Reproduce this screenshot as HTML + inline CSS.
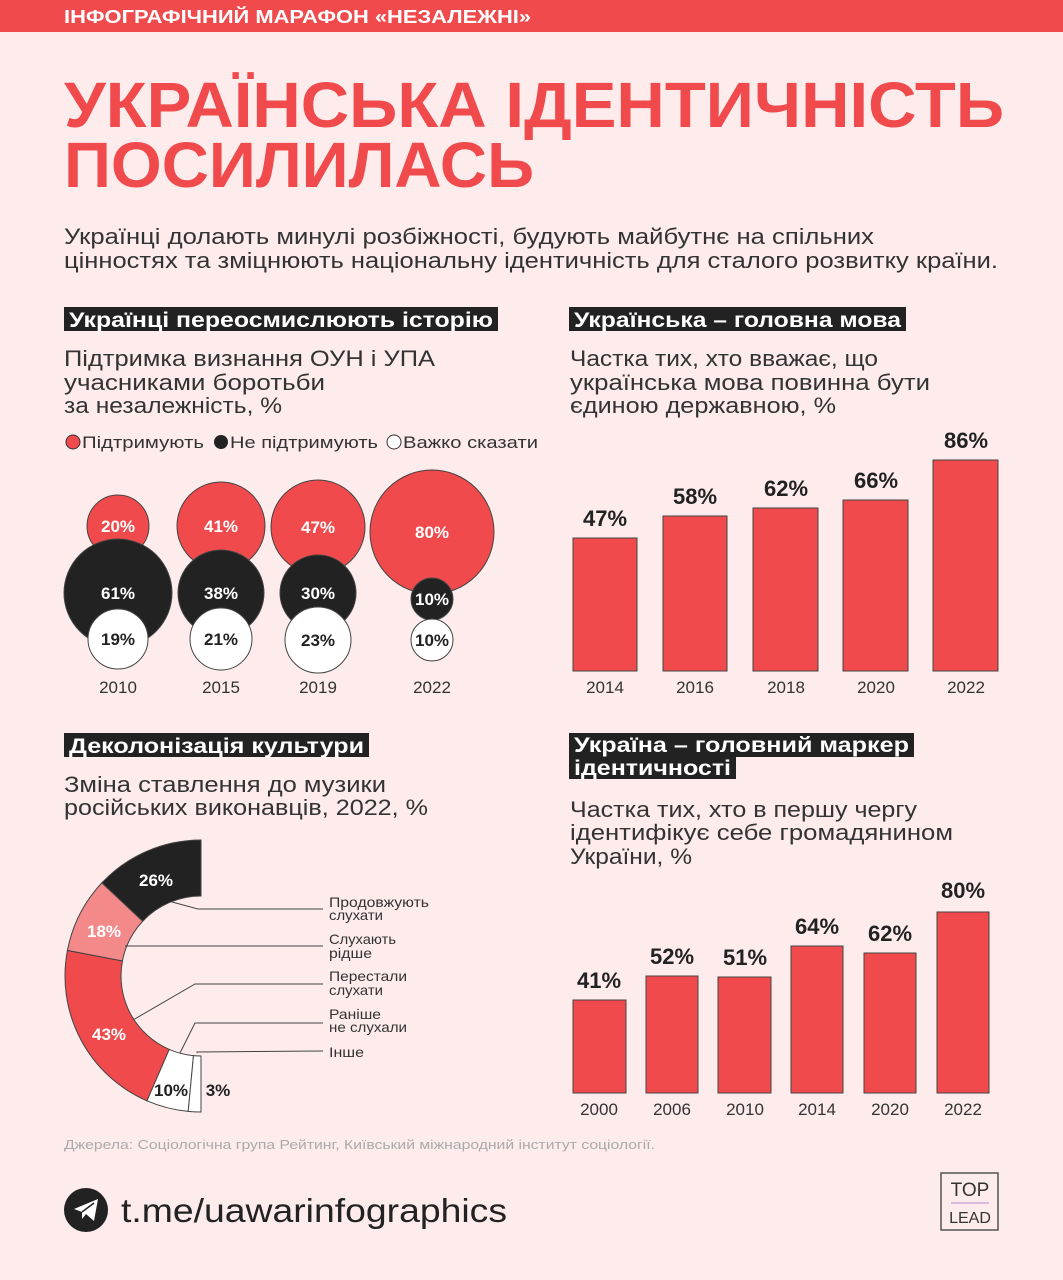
<!DOCTYPE html>
<html><head><meta charset="utf-8"><style>
html,body{margin:0;padding:0;background:#fdeceb;}
svg{display:block;font-family:"Liberation Sans","DejaVu Sans",sans-serif;}
.b{font-weight:bold}
</style></head><body>
<svg width="1063" height="1280" viewBox="0 0 1063 1280" xmlns="http://www.w3.org/2000/svg">
<rect width="1063" height="1280" fill="#fdeceb"/>
<rect width="1063" height="32" fill="#f04a4d"/>
<text x="64" y="23" fill="#fff" font-size="18" class="b" textLength="467" lengthAdjust="spacingAndGlyphs">ІНФОГРАФІЧНИЙ МАРАФОН «НЕЗАЛЕЖНІ»</text>
<text x="64" y="127" fill="#f04a4d" font-size="64" font-weight="900" class="b" textLength="940" lengthAdjust="spacingAndGlyphs">УКРАЇНСЬКА ІДЕНТИЧНІСТЬ</text>
<text x="64" y="187" fill="#f04a4d" font-size="64" font-weight="900" class="b" textLength="470" lengthAdjust="spacingAndGlyphs">ПОСИЛИЛАСЬ</text>
<text x="64" y="244" fill="#333" font-size="22" textLength="810" lengthAdjust="spacingAndGlyphs">Українці долають минулі розбіжності, будують майбутнє на спільних</text>
<text x="64" y="268" fill="#333" font-size="22" textLength="934" lengthAdjust="spacingAndGlyphs">цінностях та зміцнюють національну ідентичність для сталого розвитку країни.</text>

<!-- section 1 -->
<rect x="64" y="307" width="434" height="24" fill="#222"/>
<text x="69" y="327" fill="#fff" font-size="21" class="b" textLength="424" lengthAdjust="spacingAndGlyphs">Українці переосмислюють історію</text>
<g fill="#333" font-size="22" lengthAdjust="spacingAndGlyphs">
<text x="64" y="366" textLength="371" lengthAdjust="spacingAndGlyphs">Підтримка визнання ОУН і УПА</text>
<text x="64" y="390" textLength="261" lengthAdjust="spacingAndGlyphs">учасниками боротьби</text>
<text x="64" y="413" textLength="218" lengthAdjust="spacingAndGlyphs">за незалежність, %</text>
</g>
<circle cx="73" cy="442" r="7" fill="#f04a4d" stroke="#333" stroke-width="1"/>
<text x="82" y="448" font-size="17" fill="#333" textLength="122" lengthAdjust="spacingAndGlyphs">Підтримують</text>
<circle cx="221" cy="442" r="7" fill="#222"/>
<text x="230" y="448" font-size="17" fill="#333" textLength="148" lengthAdjust="spacingAndGlyphs">Не підтримують</text>
<circle cx="394" cy="442" r="7" fill="#fff" stroke="#333" stroke-width="1"/>
<text x="403" y="448" font-size="17" fill="#333" textLength="135" lengthAdjust="spacingAndGlyphs">Важко сказати</text>

<g stroke="#444" stroke-width="1">
<circle cx="118" cy="526" r="31" fill="#f04a4d"/>
<circle cx="118" cy="593" r="54" fill="#222"/>
<circle cx="118" cy="639" r="30" fill="#fff"/>
<circle cx="221" cy="526" r="44" fill="#f04a4d"/>
<circle cx="221" cy="593" r="43" fill="#222"/>
<circle cx="221" cy="639" r="31" fill="#fff"/>
<circle cx="318" cy="527" r="47" fill="#f04a4d"/>
<circle cx="318" cy="593" r="38" fill="#222"/>
<circle cx="318" cy="640" r="33" fill="#fff"/>
<circle cx="432" cy="532" r="62" fill="#f04a4d"/>
<circle cx="432" cy="599" r="21" fill="#222"/>
<circle cx="432" cy="640" r="21" fill="#fff"/>
</g>
<g font-size="17" class="b" text-anchor="middle">
<text x="118" y="532" fill="#fff">20%</text><text x="118" y="599" fill="#fff">61%</text><text x="118" y="645" fill="#222">19%</text>
<text x="221" y="532" fill="#fff">41%</text><text x="221" y="599" fill="#fff">38%</text><text x="221" y="645" fill="#222">21%</text>
<text x="318" y="533" fill="#fff">47%</text><text x="318" y="599" fill="#fff">30%</text><text x="318" y="646" fill="#222">23%</text>
<text x="432" y="538" fill="#fff">80%</text><text x="432" y="605" fill="#fff">10%</text><text x="432" y="646" fill="#222">10%</text>
</g>
<g font-size="17" fill="#333" text-anchor="middle">
<text x="118" y="693">2010</text><text x="221" y="693">2015</text><text x="318" y="693">2019</text><text x="432" y="693">2022</text>
</g>

<!-- section 2 -->
<rect x="569" y="307" width="337" height="24" fill="#222"/>
<text x="574" y="327" fill="#fff" font-size="21" class="b" textLength="327" lengthAdjust="spacingAndGlyphs">Українська – головна мова</text>
<g fill="#333" font-size="22">
<text x="570" y="366" textLength="308" lengthAdjust="spacingAndGlyphs">Частка тих, хто вважає, що</text>
<text x="570" y="390" textLength="360" lengthAdjust="spacingAndGlyphs">українська мова повинна бути</text>
<text x="570" y="413" textLength="266" lengthAdjust="spacingAndGlyphs">єдиною державною, %</text>
</g>
<g fill="#f04a4d" stroke="#444" stroke-width="1">
<rect x="573" y="538" width="64" height="133"/>
<rect x="663" y="516" width="64" height="155"/>
<rect x="753" y="508" width="65" height="163"/>
<rect x="843" y="500" width="65" height="171"/>
<rect x="933" y="460" width="65" height="211"/>
</g>
<g font-size="22" class="b" fill="#222" text-anchor="middle">
<text x="605" y="526">47%</text><text x="695" y="504">58%</text><text x="786" y="496">62%</text><text x="876" y="488">66%</text><text x="966" y="448">86%</text>
</g>
<g font-size="17" fill="#333" text-anchor="middle">
<text x="605" y="693">2014</text><text x="695" y="693">2016</text><text x="786" y="693">2018</text><text x="876" y="693">2020</text><text x="966" y="693">2022</text>
</g>

<!-- section 3 -->
<rect x="64" y="733" width="305" height="24" fill="#222"/>
<text x="69" y="753" fill="#fff" font-size="21" class="b" textLength="295" lengthAdjust="spacingAndGlyphs">Деколонізація культури</text>
<g fill="#333" font-size="22">
<text x="64" y="792" textLength="322" lengthAdjust="spacingAndGlyphs">Зміна ставлення до музики</text>
<text x="64" y="815" textLength="364" lengthAdjust="spacingAndGlyphs">російських виконавців, 2022, %</text>
</g>
<g id="donut" stroke="#444" stroke-width="1"></g>
<g font-size="17" class="b" text-anchor="middle">
<text x="156" y="886" fill="#fff">26%</text>
<text x="104" y="937" fill="#fff">18%</text>
<text x="109" y="1040" fill="#fff">43%</text>
<text x="171" y="1096" fill="#222">10%</text>
<text x="218" y="1096" fill="#222">3%</text>
</g>
<g stroke="#444" stroke-width="1" fill="none">
<polyline points="172,902 198,909 323,909"/>
<polyline points="125,946 323,946"/>
<polyline points="133,1020 195,984 323,984"/>
<polyline points="180,1053 195,1023 323,1023"/>
<polyline points="197,1053 197,1052 323,1051"/>
</g>
<g font-size="14" fill="#333">
<text x="329" y="907" textLength="100" lengthAdjust="spacingAndGlyphs">Продовжують</text><text x="329" y="920" textLength="54" lengthAdjust="spacingAndGlyphs">слухати</text>
<text x="329" y="944" textLength="67" lengthAdjust="spacingAndGlyphs">Слухають</text><text x="329" y="958" textLength="43" lengthAdjust="spacingAndGlyphs">рідше</text>
<text x="329" y="981" textLength="78" lengthAdjust="spacingAndGlyphs">Перестали</text><text x="329" y="995" textLength="54" lengthAdjust="spacingAndGlyphs">слухати</text>
<text x="329" y="1019" textLength="52" lengthAdjust="spacingAndGlyphs">Раніше</text><text x="329" y="1032" textLength="78" lengthAdjust="spacingAndGlyphs">не слухали</text>
<text x="329" y="1057" textLength="35" lengthAdjust="spacingAndGlyphs">Інше</text>
</g>

<!-- section 4 -->
<rect x="569" y="733" width="345" height="24" fill="#222"/>
<rect x="569" y="757" width="167" height="22" fill="#222"/>
<text x="574" y="752" fill="#fff" font-size="21" class="b" textLength="335" lengthAdjust="spacingAndGlyphs">Україна – головний маркер</text>
<text x="574" y="775" fill="#fff" font-size="21" class="b" textLength="157" lengthAdjust="spacingAndGlyphs">ідентичності</text>
<g fill="#333" font-size="22">
<text x="570" y="817" textLength="347" lengthAdjust="spacingAndGlyphs">Частка тих, хто в першу чергу</text>
<text x="570" y="840" textLength="383" lengthAdjust="spacingAndGlyphs">ідентифікує себе громадянином</text>
<text x="570" y="864" textLength="122" lengthAdjust="spacingAndGlyphs">України, %</text>
</g>
<g fill="#f04a4d" stroke="#444" stroke-width="1">
<rect x="573" y="1000" width="53" height="93"/>
<rect x="646" y="976" width="52" height="117"/>
<rect x="718" y="977" width="53" height="116"/>
<rect x="791" y="946" width="52" height="147"/>
<rect x="864" y="953" width="52" height="140"/>
<rect x="937" y="912" width="52" height="181"/>
</g>
<g font-size="22" class="b" fill="#222" text-anchor="middle">
<text x="599" y="988">41%</text><text x="672" y="964">52%</text><text x="745" y="965">51%</text><text x="817" y="934">64%</text><text x="890" y="941">62%</text><text x="963" y="898">80%</text>
</g>
<g font-size="17" fill="#333" text-anchor="middle">
<text x="599" y="1115">2000</text><text x="672" y="1115">2006</text><text x="745" y="1115">2010</text><text x="817" y="1115">2014</text><text x="890" y="1115">2020</text><text x="963" y="1115">2022</text>
</g>

<text x="64" y="1149" font-size="13" fill="#aaa" textLength="591" lengthAdjust="spacingAndGlyphs">Джерела: Соціологічна група Рейтинг, Київський міжнародний інститут соціології.</text>

<circle cx="86" cy="1210" r="22" fill="#222"/>
<path d="M74 1209 L98 1199 L94 1221 L86 1214 L82 1219 L82 1212 Z" fill="#fff"/>
<path d="M82 1212 L94 1203" stroke="#222" stroke-width="1.5"/>
<text x="121" y="1222" font-size="33" fill="#222" textLength="386" lengthAdjust="spacingAndGlyphs">t.me/uawarinfographics</text>

<rect x="941" y="1173" width="57" height="57" fill="none" stroke="#555" stroke-width="1.5"/>
<text x="970" y="1196" font-size="19" fill="#333" text-anchor="middle">TOP</text>
<line x1="951" y1="1203" x2="989" y2="1203" stroke="#b88ad0" stroke-width="1"/>
<text x="970" y="1223" font-size="16" fill="#333" text-anchor="middle">LEAD</text>
</svg>
<script>
(function(){
var cx=201,cy=976,R=136,r=80,ns="http://www.w3.org/2000/svg";
var segs=[[26,"#222"],[18,"#f4898a"],[43,"#f04a4d"],[10,"#fff"],[3,"#fff"]];
var a=0,g=document.getElementById("donut");
function p(rad,deg){var t=deg*Math.PI/180;return (cx-rad*Math.sin(t)).toFixed(2)+","+(cy-rad*Math.cos(t)).toFixed(2);}
segs.forEach(function(s){
 var a2=a+s[0]*1.8;
 var d="M"+p(R,a)+" A"+R+","+R+" 0 0 0 "+p(R,a2)+" L"+p(r,a2)+" A"+r+","+r+" 0 0 1 "+p(r,a)+" Z";
 var e=document.createElementNS(ns,"path");e.setAttribute("d",d);e.setAttribute("fill",s[1]);g.appendChild(e);a=a2;
});
})();
</script>
</body></html>
